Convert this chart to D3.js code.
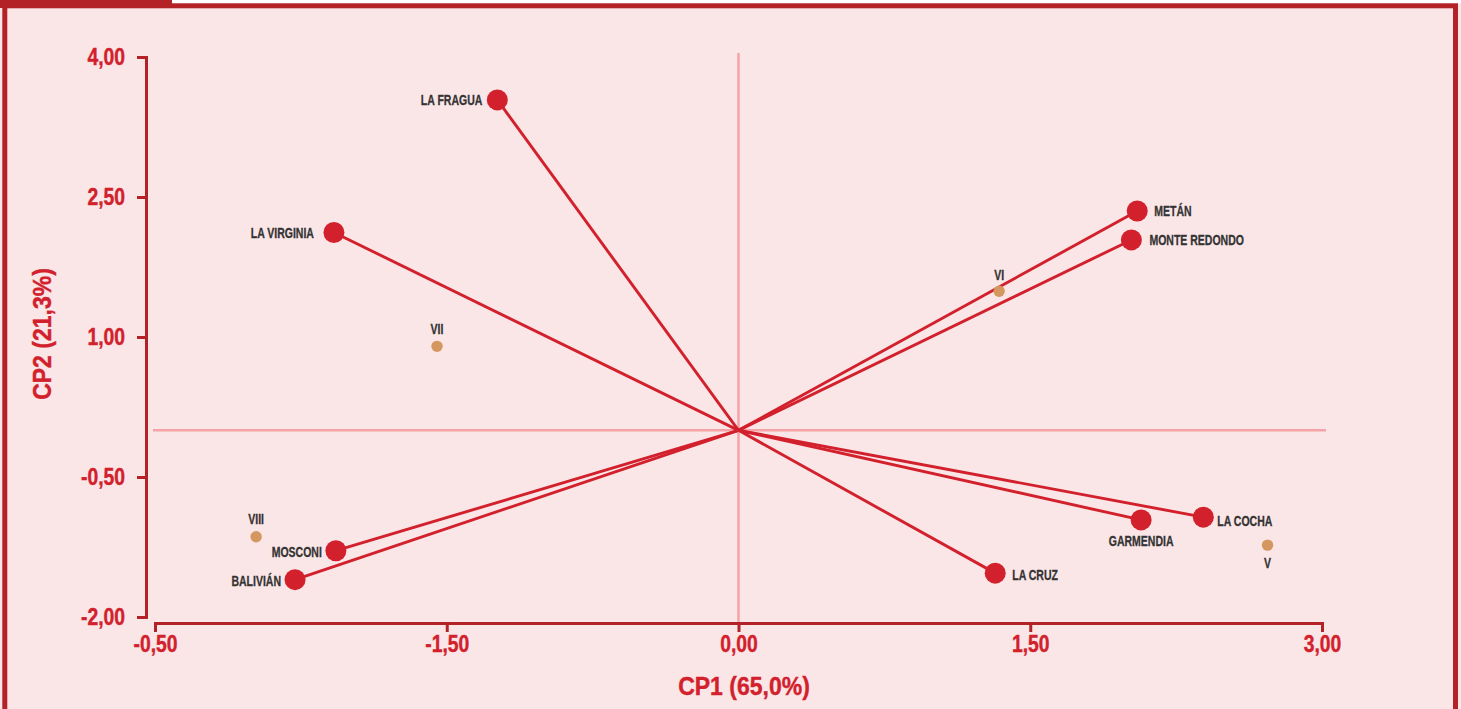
<!DOCTYPE html>
<html><head><meta charset="utf-8">
<script src="https://cdn.jsdelivr.net/npm/d3@7"></script>
<style>
html,body{margin:0;padding:0;background:#FBE6E7;overflow:hidden;}
svg{display:block;}
text{font-family:"Liberation Sans",Arial,sans-serif;font-weight:bold;}
</style></head><body>
<svg id="c" width="1461" height="709"></svg>
<script>
// ---- data ----
const sites = ["LA FRAGUA","LA VIRGINIA","METÁN","MONTE REDONDO","LA COCHA","GARMENDIA","LA CRUZ","MOSCONI","BALIVIÁN"];
const siteCP1 = [-1.24,-2.08,2.05,2.02,2.39,2.07,1.32,-2.07,-2.28];
const siteCP2 = [3.54,2.12,2.35,2.04,-0.93,-0.96,-1.53,-1.29,-1.60];
const groups = ["VI","VII","VIII","V"];
const groupCP1 = [1.34,-1.55,-2.48,2.72];
const groupCP2 = [1.49,0.90,-1.14,-1.23];
const xTickValues = [-3,-1.5,0,1.5,3];
const xTickLabels = ["-0,50","-1,50","0,00","1,50","3,00"];
const yTickValues = [4,2.5,1,-0.5,-2];
const yTickLabels = ["4,00","2,50","1,00","-0,50","-2,00"];
const xTitle = "CP1 (65,0%)";
const yTitle = "CP2 (21,3%)";

// ---- layout ----
const W = 1461, H = 709;
const svg = d3.select("#c");
const x = d3.scaleLinear().domain([-3,3]).range([155,1322]);
const y = d3.scaleLinear().domain([-2,4]).range([617,57]);
const RED = "#D2202C", DARK = "#B22226", PINK = "#F5A3A6", TAN = "#D4975F", TXT = "#333";

// condensed look: compress glyphs horizontally, keeping anchors
function squeeze(sel, f){
  sel.each(function(){
    const len = this.getComputedTextLength();
    d3.select(this).attr("textLength", len*f).attr("lengthAdjust","spacingAndGlyphs");
  });
}

// frame
svg.append("rect").attr("x",0).attr("y",0).attr("width",W).attr("height",H).attr("fill","#FBE6E7");
svg.append("rect").attr("x",172).attr("y",0).attr("width",W-172).attr("height",3.5).attr("fill","#fff");
svg.append("rect").attr("x",4.8).attr("y",5.8).attr("width",1455.5-4.8).attr("height",H+20)
  .attr("fill","none").attr("stroke",DARK).attr("stroke-width",5);
svg.append("rect").attr("x",0).attr("y",0).attr("width",172).attr("height",8).attr("fill",DARK);

// reference lines
svg.append("line").attr("x1",x(0)).attr("x2",x(0)).attr("y1",53).attr("y2",622)
  .attr("stroke",PINK).attr("stroke-width",2.5);
svg.append("line").attr("x1",153).attr("x2",1326).attr("y1",y(0)).attr("y2",y(0))
  .attr("stroke",PINK).attr("stroke-width",2.5);

// axes
const yAxis = d3.axisLeft(y).tickValues(yTickValues).tickFormat((d,i)=>yTickLabels[i]).tickSize(9).tickPadding(12);
const gy = svg.append("g").attr("transform","translate(146,0)").call(yAxis);
const xAxis = d3.axisBottom(x).tickValues(xTickValues).tickFormat((d,i)=>xTickLabels[i]).tickSize(9).tickPadding(4);
const gx = svg.append("g").attr("transform","translate(0,623)").call(xAxis);
[gx,gy].forEach(g=>{
  g.select(".domain").attr("stroke",DARK).attr("stroke-width",3);
  g.selectAll(".tick line").attr("stroke",DARK).attr("stroke-width",3);
  g.selectAll(".tick text").attr("fill",RED).attr("font-size",23)
   .attr("stroke",RED).attr("stroke-width",0.4)
   .style("font-family",'"Liberation Sans",Arial,sans-serif').style("font-weight","bold")
   .call(squeeze, 0.84);
});

// titles
svg.append("text").attr("x",744).attr("y",695).attr("text-anchor","middle")
  .attr("fill",RED).attr("stroke",RED).attr("stroke-width",0.4)
  .attr("font-size",25).text(xTitle).call(squeeze,0.92);
svg.append("text").attr("transform","translate(51,334) rotate(-90)").attr("text-anchor","middle")
  .attr("fill",RED).attr("stroke",RED).attr("stroke-width",0.4)
  .attr("font-size",25).text(yTitle).call(squeeze,0.92);

// vectors
const siteData = sites.map((n,i)=>({n, a:siteCP1[i], b:siteCP2[i]}));
const groupData = groups.map((n,i)=>({n, a:groupCP1[i], b:groupCP2[i]}));
svg.append("g").selectAll("line").data(siteData).join("line")
  .attr("x1",x(0)).attr("y1",y(0)).attr("x2",d=>x(d.a)).attr("y2",d=>y(d.b))
  .attr("stroke",RED).attr("stroke-width",2.9);
svg.append("g").selectAll("circle").data(siteData).join("circle")
  .attr("cx",d=>x(d.a)).attr("cy",d=>y(d.b)).attr("r",10.5).attr("fill",RED);
svg.append("g").selectAll("circle").data(groupData).join("circle")
  .attr("cx",d=>x(d.a)).attr("cy",d=>y(d.b)).attr("r",5.7).attr("fill",TAN);

// label placement (layout only)
const place = {
  "LA FRAGUA":["end",-15,0], "LA VIRGINIA":["end",-20,0], "METÁN":["start",17,0],
  "MONTE REDONDO":["start",18,0], "LA COCHA":["start",14,3], "GARMENDIA":["middle",0,21],
  "LA CRUZ":["start",17,1], "MOSCONI":["end",-14,1], "BALIVIÁN":["end",-14,1],
  "VI":["middle",0,-17], "VII":["middle",0,-18], "VIII":["middle",0,-18], "V":["middle",0,17]
};
svg.append("g").selectAll("text").data(siteData.concat(groupData)).join("text")
  .attr("x",d=>x(d.a)+place[d.n][1]).attr("y",d=>y(d.b)+place[d.n][2])
  .attr("dy","0.36em").attr("text-anchor",d=>place[d.n][0])
  .attr("fill",TXT).attr("stroke",TXT).attr("stroke-width",0.3)
  .attr("font-size",15).text(d=>d.n).call(squeeze,0.70);
</script>
</body></html>
